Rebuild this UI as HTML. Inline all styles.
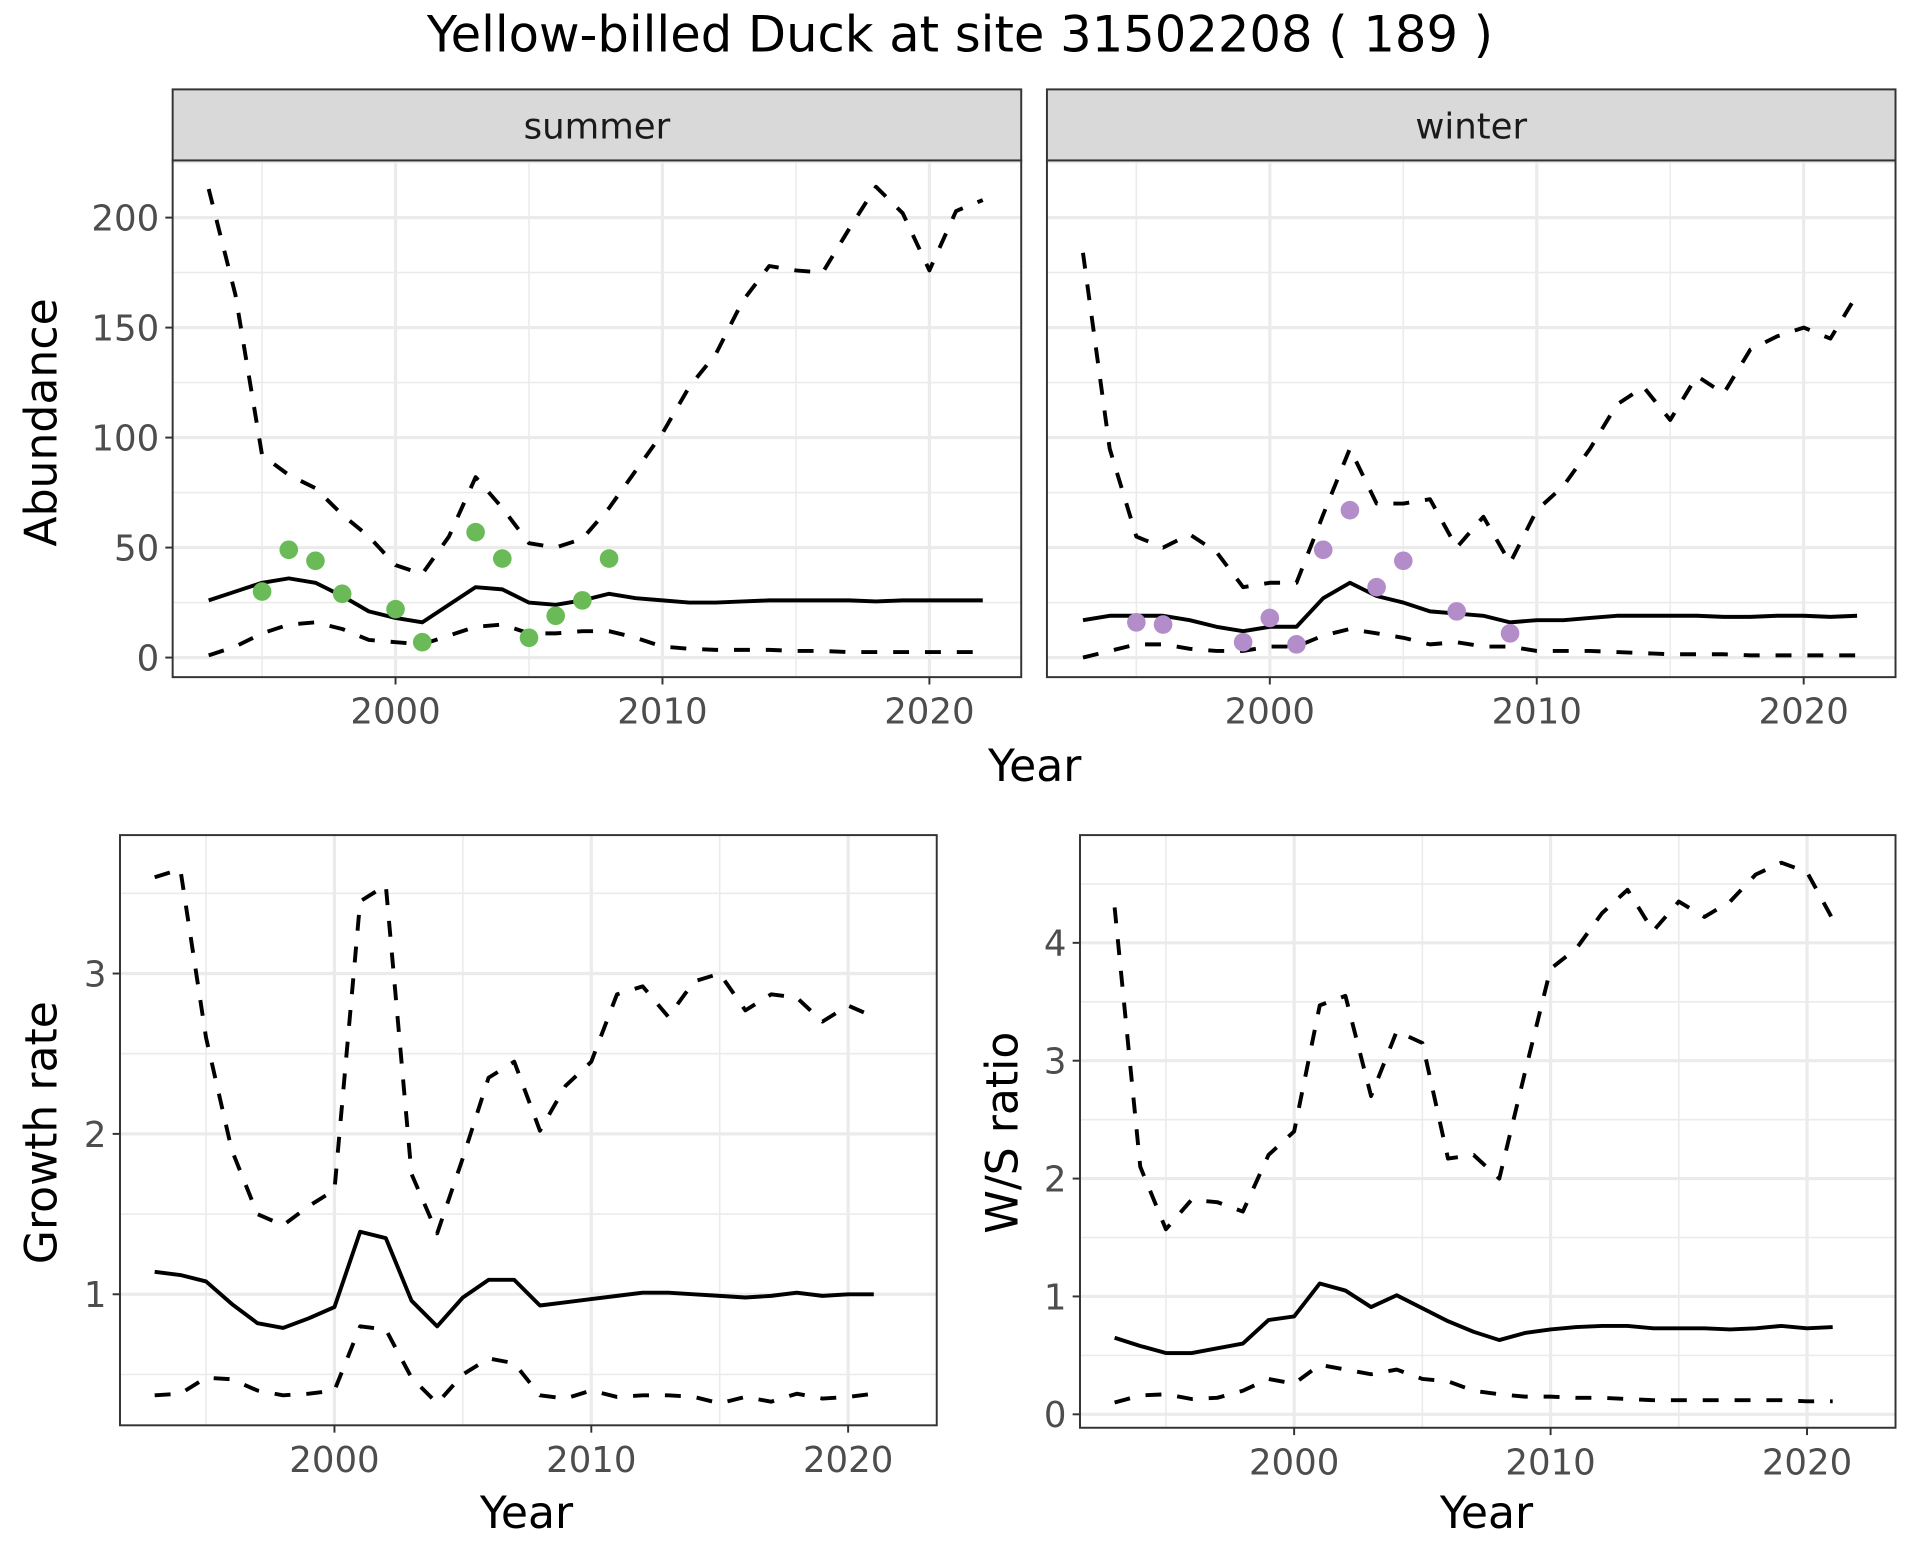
<!DOCTYPE html>
<html><head><meta charset="utf-8"><style>
html,body{margin:0;padding:0;background:#fff;}
svg{display:block;}
text{font-family:"DejaVu Sans","Liberation Sans",sans-serif;}
</style></head><body>
<svg id="chart" width="1920" height="1560" viewBox="0 0 1568 1274" preserveAspectRatio="none" xmlns="http://www.w3.org/2000/svg"></svg>
<script>
// ---- data ----
const yearsAbund = [1993,1994,1995,1996,1997,1998,1999,2000,2001,2002,2003,2004,2005,2006,2007,2008,2009,2010,2011,2012,2013,2014,2015,2016,2017,2018,2019,2020,2021,2022];
const summerUpper = [213,165,92,83,77,65,55,42,38,55,82,68,52,50,54,68,85,102,123,138,162,178,176,175,195,214,202,176,203,208];
const summerMean = [26,30,34,36,34,28,21,18,16,24,32,31,25,24,26,29,27,26,25,25,25.5,26,26,26,26,25.5,26,26,26,26];
const summerLower = [1,5,11,15,16,13,8,7,6,10,14,15,11,11,12,12,9,5,4,3.5,3.5,3.5,3,3,2.5,2.5,2.5,2.5,2.5,2.5];
const summerObsYears = [1995,1996,1997,1998,2000,2001,2003,2004,2005,2006,2007,2008];
const summerObs = [30,49,44,29,22,7,57,45,9,19,26,45];
const winterUpper = [184,95,55,50,56,48,32,34,34,65,95,70,70,72,50,64,43,67,78,95,115,123,108,128,120,140,146,150,145,165];
const winterMean = [17,19,19,19,17,14,12,14,14,27,34,28,25,21,20,19,16,17,17,18,19,19,19,19,18.5,18.5,19,19,18.5,19];
const winterLower = [0,3,6,6,4,3,3,5,5,10,13,11,9,6,7,5,5,3,3,3,2.5,2,1.5,1.5,1.5,1,1,1,1,1];
const winterObsYears = [1995,1996,1999,2000,2001,2002,2003,2004,2005,2007,2009];
const winterObs = [16,15,7,18,6,49,67,32,44,21,11];
const yearsRate = [1993,1994,1995,1996,1997,1998,1999,2000,2001,2002,2003,2004,2005,2006,2007,2008,2009,2010,2011,2012,2013,2014,2015,2016,2017,2018,2019,2020,2021];
const growthUpper = [3.6,3.65,2.6,1.9,1.5,1.43,1.55,1.65,3.45,3.55,1.75,1.38,1.85,2.35,2.45,2.02,2.3,2.45,2.87,2.92,2.73,2.95,3.0,2.77,2.87,2.85,2.7,2.8,2.73];
const growthMean = [1.14,1.12,1.08,0.94,0.82,0.79,0.85,0.92,1.39,1.35,0.96,0.80,0.98,1.09,1.09,0.93,0.95,0.97,0.99,1.01,1.01,1.0,0.99,0.98,0.99,1.01,0.99,1.0,1.0];
const growthLower = [0.37,0.38,0.48,0.47,0.4,0.37,0.38,0.4,0.8,0.78,0.48,0.32,0.5,0.6,0.57,0.37,0.35,0.4,0.36,0.37,0.37,0.36,0.32,0.36,0.33,0.38,0.35,0.36,0.38];
const wsUpper = [4.3,2.1,1.57,1.82,1.8,1.72,2.2,2.4,3.47,3.55,2.7,3.25,3.15,2.17,2.2,2.0,2.9,3.78,3.95,4.25,4.45,4.1,4.35,4.22,4.35,4.58,4.68,4.6,4.2];
const wsMean = [0.65,0.58,0.52,0.52,0.56,0.6,0.8,0.83,1.11,1.05,0.91,1.01,0.9,0.79,0.7,0.63,0.69,0.72,0.74,0.75,0.75,0.73,0.73,0.73,0.72,0.73,0.75,0.73,0.74];
const wsLower = [0.1,0.16,0.17,0.13,0.14,0.2,0.3,0.26,0.42,0.38,0.34,0.38,0.3,0.28,0.2,0.17,0.15,0.15,0.14,0.14,0.13,0.12,0.12,0.12,0.12,0.12,0.12,0.11,0.11];
const xTicks = [2000,2010,2020];
const xMinor = [1995,2005,2015];
const abundTicks = [0,50,100,150,200];
const abundMinor = [25,75,125,175,225];
const growthTicks = [1,2,3];
const growthMinor = [0.5,1.5,2.5,3.5];
const wsTicks = [0,1,2,3,4];
const wsMinor = [0.5,1.5,2.5,3.5,4.5];

const NS='http://www.w3.org/2000/svg';
const svg=document.getElementById('chart');
function el(tag,attrs,parent,txt){const e=document.createElementNS(NS,tag);for(const k in attrs)e.setAttribute(k,attrs[k]);if(txt!==undefined)e.textContent=txt;(parent||svg).appendChild(e);return e;}

function panel(o){
  const g=el('g',{});
  
  
  const sx=v=>o.x0+(v-o.xmin)/(o.xmax-o.xmin)*(o.x1-o.x0);
  const sy=v=>o.y1-(v-o.ymin)/(o.ymax-o.ymin)*(o.y1-o.y0);
  el('rect',{x:o.x0,y:o.y0,width:o.x1-o.x0,height:o.y1-o.y0,fill:'#fff'},g);
  xMinor.forEach(v=>el('line',{x1:sx(v),x2:sx(v),y1:o.y0,y2:o.y1,stroke:'#ebebeb','stroke-width':1.3},g));
  o.yMinor.forEach(v=>{if(v<o.ymax)el('line',{x1:o.x0,x2:o.x1,y1:sy(v),y2:sy(v),stroke:'#ebebeb','stroke-width':1.3},g);});
  xTicks.forEach(v=>el('line',{x1:sx(v),x2:sx(v),y1:o.y0,y2:o.y1,stroke:'#ebebeb','stroke-width':2.6},g));
  o.yTicks.forEach(v=>el('line',{x1:o.x0,x2:o.x1,y1:sy(v),y2:sy(v),stroke:'#ebebeb','stroke-width':2.6},g));
  const line=(ys,vals,dash,nm)=>{
    const p=el('polyline',{points:ys.map((y,i)=>sx(y)+','+sy(vals[i])).join(' '),fill:'none',stroke:'#000','stroke-width':3.2,'stroke-linejoin':'round','stroke-dasharray':dash?'13,13':'none'},g);
    
    
  };
  o.lines.forEach(l=>line(l.ys,l.v,l.dash,l.name));
  if(o.pts){o.pts.ys.forEach((y,i)=>{
    const c=el('circle',{cx:sx(y),cy:sy(o.pts.v[i]),r:7.6,fill:o.pts.color},g);
    
    
  });}
  el('rect',{x:o.x0,y:o.y0,width:o.x1-o.x0,height:o.y1-o.y0,fill:'none',stroke:'#333','stroke-width':1.6},g);
  xTicks.forEach(v=>{
    el('line',{x1:sx(v),x2:sx(v),y1:o.y1,y2:o.y1+6,stroke:'#333','stroke-width':1.6},g);
    const t=el('text',{x:sx(v),y:o.y1+38,'text-anchor':'middle','font-size':29,fill:'#4d4d4d'},g,String(v));
    
    
  });
  if(o.showY){o.yTicks.forEach(v=>{
    el('line',{x1:o.x0-6,x2:o.x0,y1:sy(v),y2:sy(v),stroke:'#333','stroke-width':1.6},g);
    const t=el('text',{x:o.x0-11,y:sy(v)+10.5,'text-anchor':'end','font-size':29,fill:'#4d4d4d'},g,String(v));
    
    
  });}
  if(o.strip){
    const s=el('rect',{x:o.x0,y:73,width:o.x1-o.x0,height:o.y0-73,fill:'#d9d9d9',stroke:'#333','stroke-width':1.6},g);
    
    
    const t=el('text',{x:(o.x0+o.x1)/2,y:113,'text-anchor':'middle','font-size':29,fill:'#1a1a1a'},g,o.strip);
    
    
  }
}

const t0=el('text',{x:784,y:42,'text-anchor':'middle','font-size':40.5,fill:'#000'},svg,'Yellow-billed Duck at site 31502208 ( 189 )');



panel({name:'summer-panel',x0:141,x1:834,y0:131,y1:553,xmin:1991.65,xmax:2023.44,ymin:-8.9,ymax:226,yTicks:abundTicks,yMinor:abundMinor,showY:true,strip:'summer',
  lines:[{ys:yearsAbund,v:summerUpper,dash:true,name:'summer-upper-ci'},{ys:yearsAbund,v:summerLower,dash:true,name:'summer-lower-ci'},{ys:yearsAbund,v:summerMean,dash:false,name:'summer-mean-line'}],
  pts:{ys:summerObsYears,v:summerObs,color:'#6abb58'}});
panel({name:'winter-panel',x0:855,x1:1548,y0:131,y1:553,xmin:1991.65,xmax:2023.44,ymin:-8.9,ymax:226,yTicks:abundTicks,yMinor:abundMinor,showY:false,strip:'winter',
  lines:[{ys:yearsAbund,v:winterUpper,dash:true,name:'winter-upper-ci'},{ys:yearsAbund,v:winterLower,dash:true,name:'winter-lower-ci'},{ys:yearsAbund,v:winterMean,dash:false,name:'winter-mean-line'}],
  pts:{ys:winterObsYears,v:winterObs,color:'#b38dca'}});
panel({name:'growth-rate-panel',x0:98,x1:765,y0:682,y1:1164,xmin:1991.65,xmax:2023.45,ymin:0.183,ymax:3.863,yTicks:growthTicks,yMinor:growthMinor,showY:true,
  lines:[{ys:yearsRate,v:growthUpper,dash:true,name:'growth-upper-ci'},{ys:yearsRate,v:growthLower,dash:true,name:'growth-lower-ci'},{ys:yearsRate,v:growthMean,dash:false,name:'growth-mean-line'}]});
panel({name:'ws-ratio-panel',x0:882,x1:1548,y0:682,y1:1166,xmin:1991.65,xmax:2023.45,ymin:-0.114,ymax:4.914,yTicks:wsTicks,yMinor:wsMinor,showY:true,
  lines:[{ys:yearsRate,v:wsUpper,dash:true,name:'ws-upper-ci'},{ys:yearsRate,v:wsLower,dash:true,name:'ws-lower-ci'},{ys:yearsRate,v:wsMean,dash:false,name:'ws-mean-line'}]});

function title(txt,x,y,rot,nm){
  const t=el('text',{x:x,y:y,'text-anchor':'middle','font-size':36,fill:'#000',transform:rot?`rotate(-90 ${x} ${y})`:''},svg,txt);
  
  
}
title('Year',845,638,false,'x-axis-title-top');
title('Abundance',46,345,true,'y-axis-title-abundance');
title('Year',430,1248,false,'x-axis-title-growth');
title('Growth rate',46,925,true,'y-axis-title-growth');
title('Year',1214,1248,false,'x-axis-title-ws');
title('W/S ratio',831,925,true,'y-axis-title-ws');
</script>
</body></html>
